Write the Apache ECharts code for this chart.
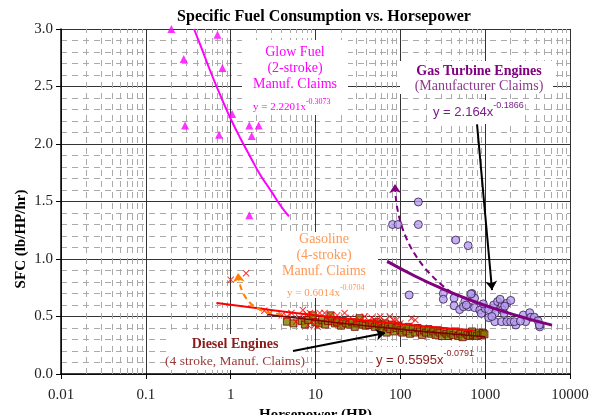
<!DOCTYPE html>
<html>
<head>
<meta charset="utf-8">
<title>Specific Fuel Consumption vs. Horsepower</title>
<script src="https://cdn.jsdelivr.net/npm/echarts@6/dist/echarts.min.js"></script>
<style>
  html, body { margin: 0; padding: 0; background: #fff; }
  #chart { width: 597px; height: 415px; }
</style>
</head>
<body>
<div id="chart"></div>
<script>
const SERIF = "'Times New Roman', 'Liberation Serif', serif";
const SANS = "Arial, 'Liberation Sans', sans-serif";

// tick labels
const xTickLabels = ['0.01', '0.1', '1', '10', '100', '1000', '10000'];
const yTickLabels = ['0.0', '0.5', '1.0', '1.5', '2.0', '2.5', '3.0'];

// minor (dashed) vertical grid: 2..9 inside every decade
const decades = [0.01, 0.1, 1, 10, 100, 1000];
const minorSteps = [2, 3, 4, 5, 6, 7, 8, 9];

// Glow fuel (2-stroke) manufacturer claims  [HP, SFC]
const glowFuel = [
  [0.2, 3.0], [0.28, 2.74], [0.29, 2.16], [0.70, 2.95], [0.80, 2.66],
  [0.73, 2.08], [1.04, 2.26], [1.66, 2.16], [1.77, 2.07], [2.14, 2.16],
  [1.66, 1.38]
];

// Gasoline (4-stroke)
const gasoline = [
  [1.0, 0.82], [1.52, 0.876], [2.49, 0.55], [2.9, 0.53], [4.0, 0.51],
  [4.6, 0.50], [5.2, 0.53], [5.9, 0.455], [6.4, 0.49], [7.1, 0.556],
  [7.9, 0.52], [8.2, 0.425], [8.6, 0.53], [9.3, 0.47], [9.8, 0.425],
  [10.6, 0.41], [11.2, 0.53], [12.8, 0.53], [14, 0.48], [15, 0.51],
  [16, 0.45], [18, 0.51], [18.5, 0.425], [20, 0.47], [22, 0.53],
  [24, 0.46], [26, 0.49], [29, 0.455], [33, 0.47], [38, 0.50],
  [42, 0.45], [46, 0.49], [50, 0.47], [53, 0.44], [58, 0.50],
  [65, 0.46], [75, 0.50], [83, 0.47], [90, 0.47], [100, 0.44],
  [135, 0.485], [150, 0.47]
];

// Diesel (4-stroke)
const diesel = [
  [4.6, 0.455], [5.5, 0.44], [6.9, 0.46], [7.5, 0.43], [8.2, 0.47],
  [9.3, 0.51], [10, 0.45], [11, 0.44], [12, 0.47], [13, 0.43],
  [14, 0.46], [15, 0.51], [15.6, 0.46], [17, 0.44], [18, 0.45],
  [20, 0.42], [21, 0.46], [23, 0.44], [25, 0.43], [27, 0.45],
  [29, 0.41], [31, 0.44], [33, 0.485], [36, 0.43], [39, 0.42],
  [43, 0.426], [46, 0.44], [50, 0.41], [53, 0.45], [56, 0.43],
  [60, 0.42], [63, 0.40], [66, 0.44], [69, 0.36], [72, 0.41],
  [76, 0.39], [80, 0.43], [85, 0.37], [90, 0.40], [95, 0.42],
  [100, 0.38], [105, 0.36], [110, 0.40], [118, 0.37], [125, 0.41],
  [130, 0.35], [140, 0.39], [150, 0.36], [160, 0.40], [170, 0.37],
  [180, 0.34], [190, 0.38], [200, 0.36], [215, 0.39], [230, 0.35],
  [245, 0.37], [260, 0.34], [275, 0.38], [290, 0.36], [310, 0.33],
  [330, 0.37], [350, 0.35], [370, 0.33], [390, 0.36], [420, 0.34],
  [450, 0.37], [480, 0.33], [510, 0.35], [540, 0.32], [580, 0.36],
  [620, 0.34], [660, 0.33], [700, 0.37], [720, 0.34], [760, 0.35],
  [800, 0.33], [850, 0.36], [900, 0.34], [944, 0.357], [980, 0.345]
];

// Gas turbine engines
const gasTurbine = [
  [81, 1.30], [94, 1.30], [163, 1.30], [163, 1.496], [450, 1.165],
  [630, 1.116], [127, 0.687], [321, 0.70], [321, 0.65], [430, 0.66],
  [430, 0.594], [500, 0.56], [575, 0.63], [555, 0.585], [640, 0.585],
  [700, 0.70], [750, 0.66], [750, 0.577], [865, 0.556], [900, 0.527],
  [1000, 0.57], [1100, 0.49], [1250, 0.574], [1260, 0.60], [1300, 0.527],
  [1300, 0.455], [1400, 0.63], [1590, 0.60], [1590, 0.556], [1560, 0.455],
  [1800, 0.615], [2000, 0.64], [1670, 0.527], [1800, 0.455], [2000, 0.455],
  [2300, 0.426], [2820, 0.513], [3350, 0.533], [3450, 0.493], [3800, 0.493],
  [4200, 0.463], [4400, 0.41], [4350, 0.426], [600, 0.60], [680, 0.696],
  [1100, 0.56], [1500, 0.65], [2200, 0.455], [3000, 0.455], [2600, 0.46],
  [1200, 0.50], [950, 0.61], [1700, 0.59]
];

// power-law trend lines
const glowTrend = [
  [0.37, 3.0], [0.45, 2.84], [0.6, 2.6], [0.8, 2.38], [1, 2.22], [1.3, 2.05],
  [1.7, 1.89], [2.2, 1.74], [3, 1.59], [4, 1.45], [4.87, 1.37]
];
const gasolineTrend = [[0.68, 0.618], [2, 0.573], [10, 0.511], [50, 0.457], [200, 0.414], [720, 0.378]];
const dieselTrend = [[2.7, 0.517], [10, 0.467], [50, 0.411], [200, 0.368], [1000, 0.324]];
const turbineTrend = [
  [70, 0.979], [150, 0.85], [300, 0.747], [700, 0.637], [1500, 0.553], [3000, 0.486], [6140, 0.425]
];

// annotation arrows [from, to]
const gasolineArrow = [[4.03, 0.52], [1.22, 0.878]];
const turbineArrow = [[407, 0.704], [86.5, 1.652]];
const turbineLabelArrow = [[802, 2.17], [1205, 0.73]];
const dieselLabelArrow = [[5.43, 0.20], [66, 0.357]];

const minorX = [];
decades.forEach(d => minorSteps.forEach(k => minorX.push(+(d * k).toPrecision(3))));

function box(x, y, w, h) {
  return { type: 'rect', z: 2, silent: true, shape: { x: x, y: y, width: w, height: h }, style: { fill: '#fff' } };
}

function label(text, x, y, font, color, align) {
  return {
    type: 'text', z: 10, silent: true, x: x, y: y,
    style: { text: text, font: font, fill: color, align: align || 'center', verticalAlign: 'middle' }
  };
}

// trend equation with a superscript exponent
function equation(base, exp, x, y, family, size, supSize, color) {
  return {
    type: 'text', z: 10, silent: true, x: x, y: y,
    style: {
      text: '{a|' + base + '}{s|' + exp + '}',
      align: 'left', verticalAlign: 'middle',
      rich: {
        a: { fontFamily: family, fontSize: size, fill: color, lineHeight: size + 8, verticalAlign: 'middle' },
        s: { fontFamily: family, fontSize: supSize, fill: color, lineHeight: 9, verticalAlign: 'top' }
      }
    }
  };
}

function arrowSeries(coords, color, type, curveness, symbol, size) {
  return {
    type: 'lines', coordinateSystem: 'cartesian2d', z: 5, silent: true,
    symbol: symbol || ['none', 'arrow'], symbolSize: size || 9,
    lineStyle: { color: color, width: 2, type: type || 'solid', curveness: curveness || 0, opacity: 1 },
    data: [{ coords: coords }]
  };
}

const chart = echarts.init(document.getElementById('chart'));

chart.setOption({
  animation: false,
  backgroundColor: '#fff',
  grid: { left: 61, right: 27, top: 29, bottom: 41, outerBoundsMode: 'none', containLabel: false },
  xAxis: {
    type: 'log', logBase: 10, min: 0.01, max: 10000,
    axisLine: { lineStyle: { color: '#000', width: 1.5 } },
    axisTick: { show: true, length: 5, lineStyle: { color: '#000' } },
    axisLabel: {
      fontFamily: SERIF, fontSize: 15, color: '#222', margin: 14,
      formatter: v => xTickLabels[Math.round(Math.log10(v)) + 2]
    },
    splitLine: { show: true, lineStyle: { color: '#333', width: 1 } },
    name: 'Horsepower (HP)', nameLocation: 'middle', nameGap: 34,
    nameTextStyle: { fontFamily: SERIF, fontWeight: 'bold', fontSize: 15, color: '#000' }
  },
  yAxis: {
    type: 'value', min: 0, max: 3, interval: 0.5,
    axisLine: { show: true, lineStyle: { color: '#000', width: 1.5 } },
    axisTick: { show: true, length: 5, lineStyle: { color: '#000' } },
    axisLabel: {
      fontFamily: SERIF, fontSize: 15, color: '#222', margin: 8,
      formatter: v => yTickLabels[Math.round(v / 0.5)]
    },
    splitLine: { show: true, lineStyle: { color: '#333', width: 1 } },
    minorTick: { show: false, splitNumber: 5 },
    minorSplitLine: { show: true, lineStyle: { color: '#aaa', width: 1, type: [6, 5] } }
  },
  graphic: [
    label('Specific Fuel Consumption vs. Horsepower', 324, 17, 'bold 16px ' + SERIF, '#000'),
    Object.assign(label('SFC (lb/HP/hr)', 21, 239, 'bold 15px ' + SERIF, '#000'), { rotation: Math.PI / 2 }),

    box(242, 40, 106, 75),
    label('Glow Fuel', 295, 52, '14px ' + SERIF, '#ff00ff'),
    label('(2-stroke)', 295, 68, '14px ' + SERIF, '#ff00ff'),
    label('Manuf. Claims', 295, 84, '14px ' + SERIF, '#ff00ff'),
    equation('y = 2.2201x', '-0.3073', 253, 107, SERIF, 11, 8, '#ff00ff'),

    box(400, 61, 153, 33),
    label('Gas Turbine Engines', 479, 71, 'bold 14px ' + SERIF, '#800080'),
    label('(Manufacturer Claims)', 479, 86, '14px ' + SERIF, '#8e3b8e'),
    box(427, 100, 98, 24),
    equation('y = 2.164x', '-0.1866', 433, 112, SANS, 13, 9, '#7b1e8b'),

    box(272, 232, 106, 66),
    label('Gasoline', 324, 239, '14px ' + SERIF, '#ff9955'),
    label('(4-stroke)', 324, 255, '14px ' + SERIF, '#ff9955'),
    label('Manuf. Claims', 324, 271, '14px ' + SERIF, '#ff9955'),
    equation('y = 0.6014x', '-0.0704', 287, 293, SERIF, 11, 8, '#ff9955'),

    box(167, 334, 138, 36),
    label('Diesel Engines', 235, 344, 'bold 14px ' + SERIF, '#8b1a1a'),
    label('(4 stroke, Manuf. Claims)', 235, 361, '13.5px ' + SERIF, '#9b3a3a'),
    box(373, 347, 99, 22),
    equation('y = 0.5595x', '-0.0791', 376, 360, SANS, 13, 9, '#8b1a1a')
  ],
  series: [
    {
      // carries the dashed minor grid of the log axis
      type: 'line', data: [], silent: true,
      markLine: {
        z: 1, silent: true, symbol: 'none', label: { show: false },
        lineStyle: { color: '#aaa', width: 1, type: [6, 5] },
        data: minorX.map(v => ({ xAxis: v }))
      }
    },
    {
      name: 'Glow fuel', type: 'scatter', z: 3, data: glowFuel,
      symbol: 'triangle', symbolSize: 8, itemStyle: { color: '#ff00ff' }
    },
    {
      name: 'Glow trend', type: 'line', z: 4, data: glowTrend, smooth: true,
      showSymbol: false, lineStyle: { color: '#ff00ff', width: 2 }
    },
    {
      name: 'Diesel', type: 'scatter', z: 3, data: diesel,
      symbol: 'rect', symbolSize: 7,
      itemStyle: { color: '#808000', borderColor: '#800000', borderWidth: 1 }
    },
    {
      name: 'Gasoline', type: 'scatter', z: 3, data: gasoline,
      symbol: 'path://M0,1 L1,0 L5,4 L9,0 L10,1 L6,5 L10,9 L9,10 L5,6 L1,10 L0,9 L4,5 Z',
      symbolSize: 7, itemStyle: { color: '#ff0000' }
    },
    {
      name: 'Gasoline trend', type: 'line', z: 4, data: gasolineTrend, smooth: true,
      showSymbol: false, lineStyle: { color: '#ff0000', width: 2 }
    },
    {
      name: 'Diesel trend', type: 'line', z: 4, data: dieselTrend, smooth: true,
      showSymbol: false, lineStyle: { color: '#800000', width: 1.5 }
    },
    {
      name: 'Gas turbine', type: 'scatter', z: 3, data: gasTurbine,
      symbol: 'circle', symbolSize: 8,
      itemStyle: { color: '#b89cf0', borderColor: '#2d1f4a', borderWidth: 1 }
    },
    {
      name: 'Turbine trend', type: 'line', z: 4, data: turbineTrend, smooth: true,
      showSymbol: false, lineStyle: { color: '#800080', width: 3 }
    },
    arrowSeries(gasolineArrow, '#ff8000', [6, 4], 0.45),
    arrowSeries(turbineArrow, '#800080', [6, 4], 0.25),
    arrowSeries(turbineLabelArrow, '#000', 'solid', 0),
    arrowSeries(dieselLabelArrow, '#000', 'solid', 0)
  ]
});
</script>
</body>
</html>
